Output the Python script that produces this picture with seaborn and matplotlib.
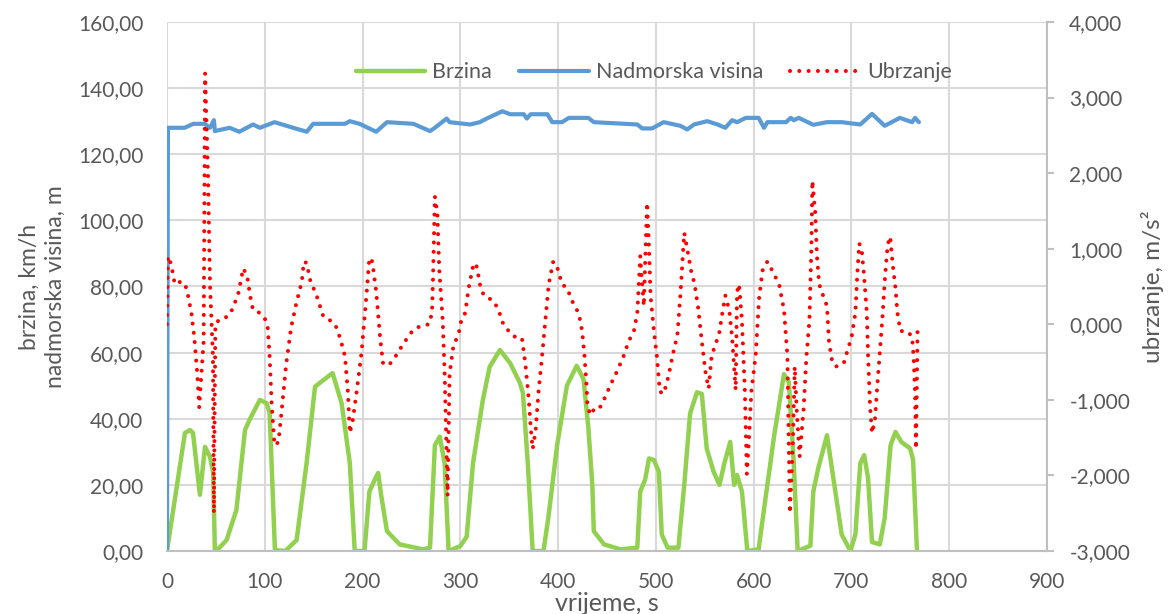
import seaborn as sns, matplotlib.pyplot as plt
from matplotlib.ticker import FuncFormatter

# vrijeme (s) i brzina (km/h)
t_brzina = [0, 18.4, 23.5, 26.6, 33.7, 38.9, 44, 47.3, 49, 52,
            61, 71, 79.8, 85, 95, 102, 105, 110.4, 121, 132.6,
            142.8, 151.4, 160, 169.4, 178.6, 187, 192, 202, 207, 214,
            216, 219, 225, 238, 262, 269, 274, 279, 284, 288,
            300, 306.5, 313, 323, 330, 340.5, 351, 361, 364, 369,
            374, 385, 390, 399, 409, 419, 426, 431, 435, 436.5,
            447, 464, 481, 484, 489, 493, 498, 503, 506, 512,
            523, 529, 535, 542, 547, 552, 559, 565, 570, 576,
            580, 583, 588, 592, 593.5, 605, 612, 621, 631, 636,
            641, 645, 658, 661, 666, 675, 681, 690, 699, 704,
            709, 713, 717, 721, 729, 734, 740, 745, 751, 760,
            763, 767]
brzina = [0, 35.7, 36.6, 35.7, 17, 31.5, 28.5, 23.6, 0, 0.5,
          3.3, 12.4, 36.6, 40, 45.7, 44.7, 41.7, 0.3, 0, 3.3,
          26.6, 49.7, 51.7, 53.8, 44.7, 26.6, 0, 0, 18, 22.5,
          23.6, 17, 6, 2, 0.5, 1, 32, 34.6, 26.5, 0,
          1.5, 4.3, 26.6, 45.6, 55.7, 60.8, 56.8, 50.8, 47.8, 26.6,
          0, 0, 10, 32, 50, 56, 52, 37, 20, 6,
          2, 0.5, 1, 18, 21.6, 28, 27.5, 24, 5, 1,
          1, 20, 41.6, 48, 47.5, 31, 24, 20, 26.5, 33,
          20, 23, 18, 5, 0, 0.5, 15.7, 35, 53.5, 51,
          26.5, 0, 1.6, 18, 25, 35, 23, 5, 0, 5,
          26.5, 29, 22, 2.7, 2, 10, 32, 36, 33, 31,
          27.6, 0]

# nadmorska visina (m)
t_visina = [0, 1, 18, 27, 38.6, 44, 48, 49, 64, 74,
            88, 95, 110, 129, 143, 149.5, 182, 187, 197, 214,
            225, 252, 269, 274, 286, 289, 310, 320, 327, 343,
            351, 365, 368, 372, 389, 394, 404, 411, 431, 436.5,
            481, 486, 496, 508, 525, 532, 539, 552.5, 563, 571,
            578, 583, 592, 605, 610.6, 614, 633, 638, 641, 646,
            661, 675, 690, 709, 721, 734, 749.5, 762, 765, 769]
visina = [0, 128, 128, 129.2, 129.2, 128, 130.3, 127, 128, 126.8,
          129, 128, 129.7, 128, 126.8, 129.2, 129.2, 130, 129.2, 126.8,
          129.7, 129.2, 127, 128, 130.8, 129.7, 129, 129.7, 130.8, 133,
          132.1, 132.1, 130.8, 132.1, 132.1, 129.7, 129.7, 131, 131, 129.7,
          129, 127.8, 127.8, 129.7, 128.6, 127.5, 129, 130, 129, 128,
          130.3, 129.7, 131, 131, 128, 129.7, 129.7, 131, 130.3, 131,
          128.9, 129.7, 129.7, 129, 132.2, 128.6, 131, 129.7, 131, 129.7]

# ubrzanje (m/s2)
t_ubrzanje = [0, 1, 4.4, 8, 15, 20, 25, 28, 31, 33,
              35, 37.5, 39, 42, 44, 47, 48, 49.5, 54, 62,
              67, 73, 78, 82, 85, 88, 95, 100, 103, 105,
              107, 110, 114, 117, 122, 127, 132.5, 138, 140, 143,
              146, 153, 160, 167, 172, 177, 182, 185, 187, 190,
              194, 199, 204, 207, 210, 214, 218, 221, 227, 233,
              241.6, 252, 260, 268, 271, 272, 274, 276.5, 278.5, 282,
              284, 287, 289, 293, 298, 301, 305, 308.5, 313.7, 317,
              320, 324, 334, 339, 344, 349.5, 354.6, 363, 366.5, 370,
              372, 374, 377, 380, 383.6, 387, 390.4, 395, 399, 404,
              409, 416, 421, 424.6, 427, 429, 430, 433, 436.5, 441.6,
              446.8, 453.6, 460, 467, 472, 477.5, 481, 484, 486, 487.7,
              489, 491, 493, 494.5, 498, 501, 504, 508, 513, 517,
              522, 525, 528, 529, 532, 536, 539.6, 543, 547, 551,
              554, 557, 561, 564.5, 568, 571, 575, 578, 581.6, 583,
              585, 588, 591, 593, 595, 597.6, 602, 605.5, 609, 614,
              619, 626, 631, 634.5, 637, 640, 642, 644, 647, 651,
              654, 657, 659, 660, 663, 664.7, 667, 669.6, 675, 677,
              680, 684, 692, 697, 700, 704, 706, 708, 710.6, 713,
              715.7, 717, 719, 721, 724, 726, 729, 732, 734, 737,
              739.6, 742, 745, 747, 750, 756.6, 762, 763.5, 765, 766,
              767.6]
ubrzanje = [0.0, 0.9, 0.79, 0.53, 0.57, 0.48, 0.15, -0.18, -0.66, -1.1,
            -0.7, -0.23, 3.32, 1.95, 0.53, -0.42, -2.5, 0.0, 0.07, 0.1,
            0.2, 0.41, 0.74, 0.64, 0.38, 0.19, 0.15, 0.08, -0.04, -0.42,
            -1.04, -1.6, -1.56, -1.18, -0.52, -0.04, 0.29, 0.57, 0.83, 0.81,
            0.6, 0.38, 0.1, 0.05, 0.0, -0.18, -0.42, -0.89, -1.44, -1.27,
            -0.89, -0.37, 0.38, 0.88, 0.83, 0.43, -0.18, -0.52, -0.54, -0.44,
            -0.26, -0.07, -0.02, 0.0, 0.15, 0.57, 1.69, 1.47, 0.71, 0.05,
            -0.66, -2.27, -0.66, -0.28, -0.14, 0.05, 0.15, 0.48, 0.81, 0.76,
            0.53, 0.38, 0.31, 0.19, 0.0, -0.09, -0.16, -0.18, -0.52, -0.99,
            -1.37, -1.65, -1.41, -0.89, -0.42, 0.05, 0.53, 0.83, 0.76, 0.53,
            0.48, 0.26, 0.15, -0.09, -0.42, -0.8, -1.08, -1.2, -1.13, -1.13,
            -1.0, -0.8, -0.63, -0.42, -0.23, -0.09, 0.15, 0.9, 0.53, 0.24,
            0.81, 1.61, 1.0, 0.38, -0.09, -0.42, -0.89, -0.92, -0.68, -0.42,
            -0.14, 0.38, 1.0, 1.21, 1.0, 0.71, 0.53, 0.24, -0.23, -0.66,
            -0.85, -0.42, -0.26, -0.14, 0.15, 0.38, 0.19, -0.18, -0.87, 0.43,
            0.53, 0.05, -0.89, -1.98, -1.56, -0.89, -0.42, 0.34, 0.71, 0.83,
            0.71, 0.53, 0.19, -0.42, -2.5, -1.6, -0.56, -1.13, -1.75, -1.13,
            -0.42, 0.05, 1.0, 1.9, 1.47, 0.9, 0.53, 0.43, 0.24, -0.23,
            -0.47, -0.56, -0.52, -0.3, -0.18, 0.15, 0.67, 1.07, 0.97, 0.62,
            0.15, -0.42, -1.08, -1.44, -1.27, -0.89, -0.37, 0.15, 0.57, 1.05,
            1.16, 0.81, 0.48, 0.15, -0.09, -0.09, -0.16, -0.42, -0.89, -1.65,
            -0.04]

sns.set_style('white')
plt.rcParams['font.family'] = ['Lato', 'DejaVu Sans']
txt = '#595959'
grid = '#d9d9d9'

fig = plt.figure(figsize=(11.7, 6.14), dpi=100)
ax = fig.add_axes([0.1427, 0.1026, 0.7522, 0.8616])
ax2 = ax.twinx()

sns.lineplot(x=t_brzina, y=brzina, ax=ax, color='#92d050', lw=3.2,
             sort=False, estimator=None, label='Brzina', legend=False)
sns.lineplot(x=t_visina, y=visina, ax=ax, color='#5b9bd5', lw=3.0,
             sort=False, estimator=None, label='Nadmorska visina', legend=False)
sns.lineplot(x=t_ubrzanje, y=ubrzanje, ax=ax2, color='#ff0000', lw=2.9,
             sort=False, estimator=None, label='Ubrzanje', legend=False,
             linestyle=(0, (0.01, 2.3)), dash_capstyle='round')

ax.set_xlim(0, 900)
ax.set_ylim(0, 160)
ax2.set_ylim(-3, 4)
ax.set_xticks(range(0, 901, 100))
ax.set_yticks(range(0, 161, 20))
ax2.set_yticks(range(-3, 5))
ax.yaxis.set_major_formatter(FuncFormatter(lambda v, p: f'{v:.2f}'.replace('.', ',')))
ax2.yaxis.set_major_formatter(FuncFormatter(lambda v, p: f'{v:.3f}'.replace('.', ',')))

ax.grid(True, color=grid, lw=1.5)
ax.set_axisbelow(True)
for a in (ax, ax2):
    for s in a.spines.values():
        s.set_visible(False)
ax2.spines['right'].set_visible(True)
ax2.spines['right'].set_color('#bfbfbf')
ax2.spines['right'].set_linewidth(1.5)
ax.spines['bottom'].set_visible(True)
ax.spines['bottom'].set_color('#bfbfbf')
ax.spines['bottom'].set_linewidth(1.5)

ax.tick_params(axis='y', length=0, pad=17, labelsize=15, labelcolor=txt)
ax.tick_params(axis='x', length=0, pad=15, labelsize=15, labelcolor=txt)
ax2.tick_params(axis='y', length=5, width=1.5, color='#bfbfbf', pad=11,
                labelsize=15, labelcolor=txt)

ax.set_xlabel('vrijeme, s', fontsize=18, color=txt, labelpad=0)
ax.set_ylabel('brzina, km/h\nnadmorska visina, m', fontsize=16.5, color=txt,
              labelpad=9, linespacing=1.3)
ax2.set_ylabel('ubrzanje, m/s²', fontsize=17.5, color=txt, labelpad=8)

h1, l1 = ax.get_legend_handles_labels()
h2, l2 = ax2.get_legend_handles_labels()
leg = ax2.legend(h1 + h2, l1 + l2, loc='center', bbox_to_anchor=(0.553, 0.905),
                 ncol=3, frameon=False, fontsize=15.5, handlelength=3.25,
                 handletextpad=0.3, columnspacing=1.28)
for t in leg.get_texts():
    t.set_color(txt)

fig.savefig('out.png', dpi=100)
